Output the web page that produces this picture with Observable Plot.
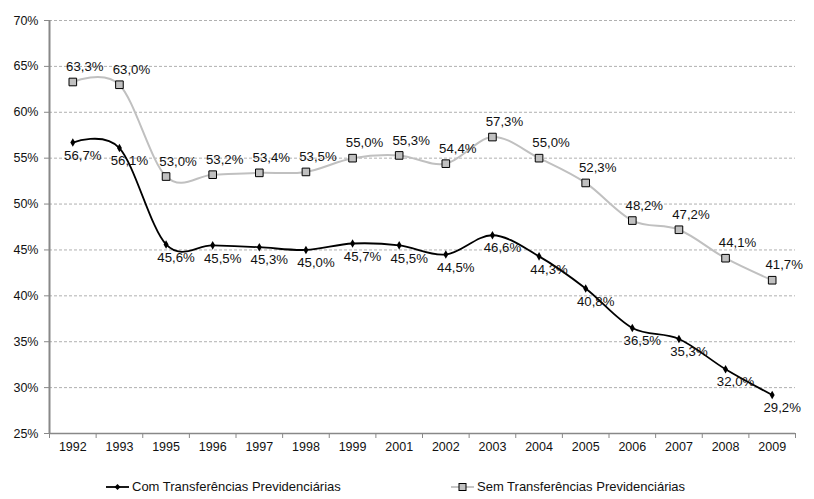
<!DOCTYPE html>
<html>
<head>
<meta charset="utf-8">
<script src="https://cdn.jsdelivr.net/npm/d3@7"></script>
<script src="https://cdn.jsdelivr.net/npm/@observablehq/plot@0.6"></script>
<style>
  html, body { margin: 0; padding: 0; background: #fff; }
  body { width: 814px; height: 499px; overflow: hidden; font-family: "Liberation Sans", Arial, sans-serif; }
  #legend { position: relative; height: 37px; font-size: 13px; color: #111; }
  .item { position: absolute; top: 17px; display: flex; align-items: center; white-space: nowrap; }
  .item svg { margin-right: 2px; }
</style>
</head>
<body>
<div id="chart"></div>
<div id="legend"></div>
<script>
const years = ["1992","1993","1995","1996","1997","1998","1999","2001","2002","2003","2004","2005","2006","2007","2008","2009"];
const com = [56.7,56.1,45.6,45.5,45.3,45.0,45.7,45.5,44.5,46.6,44.3,40.8,36.5,35.3,32.0,29.2];
const sem = [63.3,63.0,53.0,53.2,53.4,53.5,55.0,55.3,54.4,57.3,55.0,52.3,48.2,47.2,44.1,41.7];
const seriesNames = ["Com Transferências Previdenciárias", "Sem Transferências Previdenciárias"];
const yTicks = [25,30,35,40,45,50,55,60,65,70];

const comData = years.map((y, i) => ({i, year: y, v: com[i]}));
const semData = years.map((y, i) => ({i, year: y, v: sem[i]}));
const xDomain = [-0.5, years.length - 0.5];
const boundaries = d3.range(xDomain[0], xDomain[1] + 0.01, 1);
const fmt = v => v.toFixed(1).replace(".", ",") + "%";
const font = "'Liberation Sans', Arial, sans-serif";

const chart = Plot.plot({
  width: 814,
  height: 462,
  marginTop: 20,
  marginBottom: 29,
  marginLeft: 49,
  marginRight: 19,
  style: {fontFamily: font, fontSize: "12.5px", color: "#111", background: "#fff"},
  x: {domain: xDomain, axis: null, label: null},
  y: {domain: [yTicks[0], yTicks[yTicks.length - 1]], axis: null, label: null},
  marks: [
    Plot.gridY(yTicks.slice(1), {stroke: "#b0b0b0", strokeOpacity: 1, strokeDasharray: "3,2"}),
    Plot.axisY(yTicks, {tickFormat: d => d + "%", tickSize: 5, tickPadding: 6, stroke: "#888", fontSize: 12.5, fill: "#111", label: null}),
    Plot.axisX(boundaries, {tickFormat: () => "", tickSize: 5, stroke: "#888", label: null}),
    Plot.axisX(d3.range(years.length), {tickFormat: i => years[i], tickSize: 0, tickPadding: 9, fontSize: 12.5, fill: "#111", label: null}),
    Plot.ruleY([yTicks[0]], {stroke: "#888", strokeWidth: 1.5}),
    Plot.ruleX([xDomain[0]], {stroke: "#888", strokeWidth: 2}),
    Plot.line(semData, {x: "i", y: "v", stroke: "#c0c0c0", strokeWidth: 2, curve: "cardinal"}),
    Plot.line(comData, {x: "i", y: "v", stroke: "#000", strokeWidth: 1.8, curve: "cardinal"}),
    Plot.dot(semData, {x: "i", y: "v", symbol: "square", r: 4.3, fill: "#c0c0c0", stroke: "#000", strokeWidth: 1}),
    Plot.dot(comData, {x: "i", y: "v", symbol: "diamond", r: 2.6, fill: "#000", stroke: "none"}),
    Plot.text(semData, {x: "i", y: "v", text: d => fmt(d.v), dx: 12, dy: -15, fontSize: 13.2, fill: "#111"}),
    Plot.text(comData, {x: "i", y: "v", text: d => fmt(d.v), dx: 10, dy: 13, fontSize: 13.2, fill: "#111"})
  ]
});
document.getElementById("chart").appendChild(chart);

const legend = document.getElementById("legend");
const swatches = [
  {left: 105, color: "#000", sym: "diamond"},
  {left: 450, color: "#c0c0c0", sym: "square"}
];
seriesNames.forEach((name, k) => {
  const s = swatches[k];
  const div = document.createElement("div");
  div.className = "item";
  div.style.left = s.left + "px";
  const marker = s.sym === "diamond"
    ? `<path d="M12.5,4 L15.5,7 L12.5,10 L9.5,7 Z" fill="#000"/>`
    : `<rect x="9" y="3.5" width="7" height="7" fill="#c0c0c0" stroke="#000" stroke-width="1"/>`;
  div.innerHTML = `<svg width="25" height="14"><line x1="1" x2="24" y1="7" y2="7" stroke="${s.color}" stroke-width="1.8"/>${marker}</svg><span>${name}</span>`;
  legend.appendChild(div);
});
</script>
</body>
</html>
